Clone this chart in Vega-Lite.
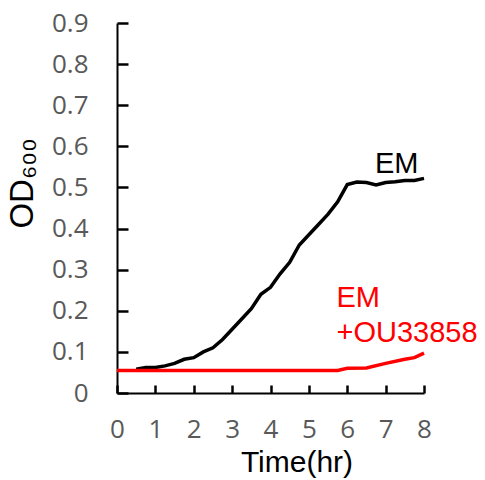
{
  "$schema": "https://vega.github.io/schema/vega-lite/v6.json",
  "autosize": "none",
  "width": 307,
  "height": 370,
  "padding": {"left": 117, "top": 23, "right": 61, "bottom": 87},
  "background": "white",
  "config": {"view": {"stroke": null}},
  "datasets": {
    "curves": [
      {"series": "EM", "t": 0.5, "od": 0.058},
      {"series": "EM", "t": 0.75, "od": 0.062},
      {"series": "EM", "t": 1.0, "od": 0.062},
      {"series": "EM", "t": 1.25, "od": 0.066},
      {"series": "EM", "t": 1.5, "od": 0.072},
      {"series": "EM", "t": 1.75, "od": 0.082},
      {"series": "EM", "t": 2.0, "od": 0.086},
      {"series": "EM", "t": 2.25, "od": 0.1},
      {"series": "EM", "t": 2.5, "od": 0.11},
      {"series": "EM", "t": 2.75, "od": 0.13},
      {"series": "EM", "t": 3.0, "od": 0.155},
      {"series": "EM", "t": 3.25, "od": 0.18},
      {"series": "EM", "t": 3.5, "od": 0.205},
      {"series": "EM", "t": 3.75, "od": 0.24},
      {"series": "EM", "t": 4.0, "od": 0.257},
      {"series": "EM", "t": 4.25, "od": 0.29},
      {"series": "EM", "t": 4.5, "od": 0.318},
      {"series": "EM", "t": 4.75, "od": 0.36},
      {"series": "EM", "t": 5.0, "od": 0.385},
      {"series": "EM", "t": 5.25, "od": 0.41},
      {"series": "EM", "t": 5.5, "od": 0.435},
      {"series": "EM", "t": 5.75, "od": 0.465},
      {"series": "EM", "t": 6.0, "od": 0.507},
      {"series": "EM", "t": 6.25, "od": 0.513},
      {"series": "EM", "t": 6.5, "od": 0.512},
      {"series": "EM", "t": 6.75, "od": 0.506},
      {"series": "EM", "t": 7.0, "od": 0.512},
      {"series": "EM", "t": 7.25, "od": 0.514},
      {"series": "EM", "t": 7.5, "od": 0.517},
      {"series": "EM", "t": 7.75, "od": 0.517},
      {"series": "EM", "t": 8.0, "od": 0.522},
      {"series": "EM+OU33858", "t": 0.0, "od": 0.055},
      {"series": "EM+OU33858", "t": 5.75, "od": 0.055},
      {"series": "EM+OU33858", "t": 6.0, "od": 0.06},
      {"series": "EM+OU33858", "t": 6.5, "od": 0.061},
      {"series": "EM+OU33858", "t": 7.0, "od": 0.072},
      {"series": "EM+OU33858", "t": 7.5, "od": 0.082},
      {"series": "EM+OU33858", "t": 7.75, "od": 0.086},
      {"series": "EM+OU33858", "t": 8.0, "od": 0.097}
    ],
    "labels": [
      {"series": "EM", "label": "EM", "t": 6.72, "od": 0.535},
      {"series": "EM+OU33858", "label": "EM", "t": 5.72, "od": 0.21},
      {"series": "EM+OU33858", "label": "+OU33858", "t": 5.72, "od": 0.125}
    ]
  },
  "encoding": {
    "x": {
      "field": "t", "type": "quantitative",
      "scale": {"domain": [0, 8], "nice": false, "zero": false},
      "axis": {
        "values": [0, 1, 2, 3, 4, 5, 6, 7, 8],
        "grid": false, "ticks": true, "tickSize": -8, "tickWidth": 2.5, "tickColor": "black",
        "labelOverlap": false, "labelBound": false,
        "domainColor": "black", "domainWidth": 2,
        "labelFont": "Open Sans", "labelFontSize": 26, "labelColor": "#595959",
        "labelPadding": 31, "labelFlush": false,
        "title": "Time(hr)",
        "titleFont": "Liberation Sans", "titleFontSize": 30, "titleFontWeight": "normal", "titleColor": "black",
        "titleX": 179.5, "titleY": 78, "titleBaseline": "alphabetic", "titleAlign": "center"
      }
    },
    "y": {
      "field": "od", "type": "quantitative",
      "scale": {"domain": [0, 0.9], "nice": false},
      "axis": {
        "values": [0, 0.1, 0.2, 0.3, 0.4, 0.5, 0.6, 0.7, 0.8, 0.9],
        "labelExpr": "datum.value == 0 ? '0' : format(datum.value, '.1f')",
        "grid": false, "ticks": true, "tickSize": -11, "tickWidth": 2.5, "tickColor": "black",
        "labelOverlap": false, "labelBound": false,
        "domainColor": "black", "domainWidth": 2,
        "labelFont": "Open Sans", "labelFontSize": 26, "labelColor": "#595959",
        "labelPadding": 40, "labelFlush": false,
        "title": "OD₆₀₀",
        "titleFont": "Liberation Sans", "titleFontSize": 33, "titleFontWeight": "normal", "titleColor": "black",
        "titleAngle": -90, "titleX": -85, "titleY": 160, "titleBaseline": "alphabetic", "titleAlign": "center"
      }
    }
  },
  "layer": [
    {
      "data": {"name": "curves"},
      "mark": {"type": "line", "strokeWidth": 3.5},
      "encoding": {
        "color": {
          "field": "series", "type": "nominal",
          "scale": {"domain": ["EM", "EM+OU33858"], "range": ["black", "#ff0000"]},
          "legend": null
        }
      }
    },
    {
      "data": {"name": "labels"},
      "mark": {"type": "text", "align": "left", "baseline": "alphabetic", "font": "Liberation Sans", "fontSize": 29},
      "encoding": {
        "text": {"field": "label"},
        "color": {"field": "series", "type": "nominal", "legend": null}
      }
    }
  ]
}
